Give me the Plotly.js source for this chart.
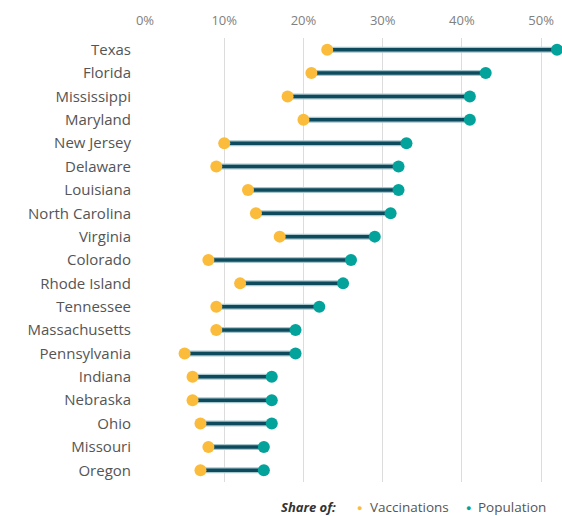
<!DOCTYPE html>
<html>
<head>
<meta charset="utf-8">
<script src="https://cdn.plot.ly/plotly-3.0.1.min.js"></script>
<style>html,body{margin:0;padding:0;background:#fff;}#chart{width:562px;height:516px;}</style>
</head>
<body>
<div id="chart"></div>
<script>
var states = ["Texas","Florida","Mississippi","Maryland","New Jersey","Delaware","Louisiana","North Carolina","Virginia","Colorado","Rhode Island","Tennessee","Massachusetts","Pennsylvania","Indiana","Nebraska","Ohio","Missouri","Oregon"];
var vaccinations = [0.23,0.21,0.18,0.20,0.10,0.09,0.13,0.14,0.17,0.08,0.12,0.09,0.09,0.05,0.06,0.06,0.07,0.08,0.07];
var population = [0.52,0.43,0.41,0.41,0.33,0.32,0.32,0.31,0.29,0.26,0.25,0.22,0.19,0.19,0.16,0.16,0.16,0.15,0.15];
var tickVals = [0,0.1,0.2,0.3,0.4,0.5];
var tickText = ["0%","10%","20%","30%","40%","50%"];

var lx = [], ly = [];
for (var i = 0; i < states.length; i++) {
  lx.push(vaccinations[i], population[i], null);
  ly.push(states[i], states[i], null);
}
var font = "'Open Sans', sans-serif";
var traces = [
  {type:"scatter", mode:"lines", x:lx, y:ly, line:{color:"#a9c6cc", width:6}, hoverinfo:"skip", showlegend:false, cliponaxis:false},
  {type:"scatter", mode:"lines", x:lx, y:ly, line:{color:"#0d4a5e", width:3.5}, hoverinfo:"skip", showlegend:false, cliponaxis:false},
  {type:"scatter", mode:"markers", name:"Vaccinations", x:vaccinations, y:states, marker:{color:"#fbbb3b", size:12}, showlegend:false, cliponaxis:false},
  {type:"scatter", mode:"markers", name:"Population", x:population, y:states, marker:{color:"#03a39b", size:12}, showlegend:false, cliponaxis:false}
];
var W = 562-145-4.5, H = 481.7-38.3;
function px(x){return (x-145)/W;}
var ly0 = -(507-481.7)/H;
layout = {
  width:562, height:516,
  margin:{l:145, r:4.5, t:38.3, b:34.3},
  paper_bgcolor:"#fff", plot_bgcolor:"#fff",
  xaxis:{range:[0,0.52], side:"top", tickvals:tickVals, ticktext:tickText, showgrid:true, gridcolor:"#dcdcdc", gridwidth:1, zeroline:false, showline:false, ticks:"", tickfont:{family:font, size:13, color:"#808080"}, ticklabelstandoff:9, fixedrange:true},
  yaxis:{type:"category", categoryorder:"array", categoryarray:states, range:[18.5,-0.5], showgrid:false, zeroline:false, showline:false, ticks:"", tickfont:{family:font, size:15, color:"#555"}, ticklabelstandoff:13, fixedrange:true},
  showlegend:false,
  annotations:[
    {xref:"paper", yref:"paper", x:px(338), y:ly0, xanchor:"right", yanchor:"middle", text:"<b><i>Share of:</i></b>", showarrow:false, font:{family:font, size:13, color:"#333"}},
    {xref:"paper", yref:"paper", x:px(360), y:ly0, xanchor:"center", yanchor:"middle", text:"●", showarrow:false, font:{family:font, size:9, color:"#fbbb3b"}},
    {xref:"paper", yref:"paper", x:px(368), y:ly0, xanchor:"left", yanchor:"middle", text:"Vaccinations", showarrow:false, font:{family:font, size:13.5, color:"#555"}},
    {xref:"paper", yref:"paper", x:px(469), y:ly0, xanchor:"center", yanchor:"middle", text:"●", showarrow:false, font:{family:font, size:9, color:"#03a39b"}},
    {xref:"paper", yref:"paper", x:px(476), y:ly0, xanchor:"left", yanchor:"middle", text:"Population", showarrow:false, font:{family:font, size:13.5, color:"#555"}}
  ]
};
Plotly.newPlot("chart", traces, layout, {displayModeBar:false, staticPlot:true});
</script>
</body>
</html>
